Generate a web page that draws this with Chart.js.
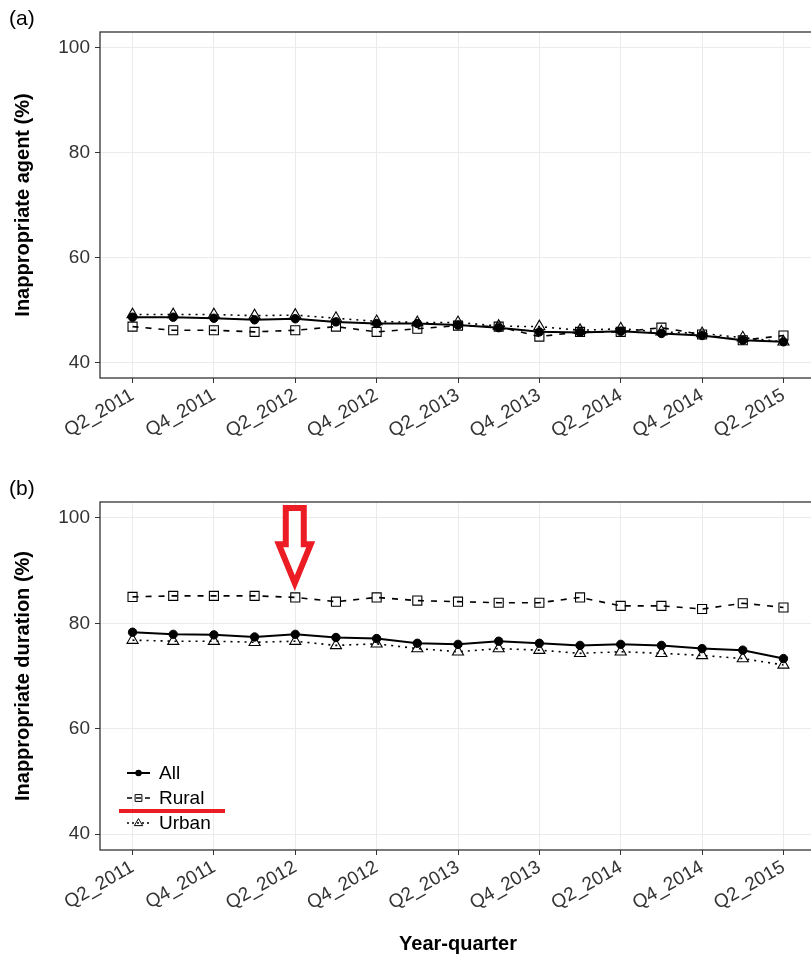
<!DOCTYPE html>
<html>
<head>
<meta charset="utf-8">
<script src="https://cdn.jsdelivr.net/npm/chart.js"></script>
<style>
  html, body { margin: 0; padding: 0; background: #fff; overflow: hidden; }
  #wrap { position: relative; width: 811px; height: 960px; overflow: hidden; }
  canvas { position: absolute; left: 0; }
</style>
</head>
<body>
<div id="wrap">
  <canvas id="panelA" width="830" height="470" style="top:0"></canvas>
  <canvas id="panelB" width="830" height="490" style="top:470px"></canvas>
</div>
<script>
// quarters on the x axis, only Q2 / Q4 get a label
const quarters = ['Q2_2011', 'Q3_2011', 'Q4_2011', 'Q1_2012', 'Q2_2012', 'Q3_2012', 'Q4_2012', 'Q1_2013',
  'Q2_2013', 'Q3_2013', 'Q4_2013', 'Q1_2014', 'Q2_2014', 'Q3_2014', 'Q4_2014', 'Q1_2015', 'Q2_2015'];
const xTickIdx = [0, 2, 4, 6, 8, 10, 12, 14, 16];
const yTicks = [40, 60, 80, 100];

// (a) inappropriate agent (%)
const agentAll   = [48.6, 48.6, 48.4, 48.1, 48.3, 47.7, 47.4, 47.4, 47.1, 46.6, 45.8, 45.7, 45.9, 45.5, 45.1, 44.2, 43.9];
const agentRural = [46.8, 46.1, 46.1, 45.8, 46.1, 46.8, 45.8, 46.4, 47.0, 46.8, 44.9, 45.8, 45.8, 46.6, 45.3, 44.2, 45.1];
const agentUrban = [49.1, 49.1, 49.1, 48.9, 49.0, 48.4, 47.8, 47.6, 47.6, 46.9, 46.8, 46.1, 46.4, 45.8, 45.5, 44.7, 43.9];

// (b) inappropriate duration (%)
const durAll   = [78.3, 77.9, 77.8, 77.4, 77.9, 77.3, 77.1, 76.2, 76.0, 76.6, 76.2, 75.8, 76.0, 75.8, 75.2, 74.9, 73.3];
const durRural = [85.0, 85.2, 85.2, 85.2, 84.9, 84.1, 84.9, 84.3, 84.1, 83.9, 83.9, 84.9, 83.3, 83.3, 82.7, 83.8, 83.0];
const durUrban = [76.8, 76.6, 76.6, 76.4, 76.6, 75.8, 76.1, 75.2, 74.6, 75.2, 74.9, 74.3, 74.6, 74.3, 73.9, 73.3, 72.1];

const seriesNames = ['All', 'Rural', 'Urban'];

const FONT = '"Liberation Sans", Arial, sans-serif';
const RED = '#ec1c24';
const TICK_TEXT = '#333';

function toXY(arr) {
  return arr.map((v, i) => ({ x: i, y: v }));
}

function makeDatasets(all, rural, urban) {
  return [
    {
      label: seriesNames[0], data: toXY(all),
      borderColor: '#000', borderWidth: 2,
      pointStyle: 'circle', pointRadius: 4.2,
      pointBackgroundColor: '#000', pointBorderColor: '#000', pointBorderWidth: 1
    },
    {
      label: seriesNames[1], data: toXY(rural),
      borderColor: '#000', borderWidth: 1.6, borderDash: [6, 7],
      pointStyle: 'rect', pointRadius: 6.4,
      pointBackgroundColor: 'rgba(0,0,0,0)', pointBorderColor: '#000', pointBorderWidth: 1.1
    },
    {
      label: seriesNames[2], data: toXY(urban),
      borderColor: '#000', borderWidth: 1.6, borderDash: [2, 5],
      pointStyle: 'triangle', pointRadius: 6.4,
      pointBackgroundColor: 'rgba(0,0,0,0)', pointBorderColor: '#000', pointBorderWidth: 1.1
    }
  ];
}

// panel border + panel tag
function panelFrame(tag) {
  return {
    id: 'panelFrame',
    afterDraw(chart) {
      const ctx = chart.ctx;
      const a = chart.chartArea;
      ctx.save();
      ctx.strokeStyle = '#333';
      ctx.lineWidth = 1.3;
      ctx.strokeRect(a.left, a.top, a.right - a.left, a.bottom - a.top);
      ctx.fillStyle = '#000';
      ctx.font = '21px ' + FONT;
      ctx.textBaseline = 'middle';
      ctx.textAlign = 'left';
      ctx.fillText(tag, 9, 19);
      ctx.restore();
    }
  };
}

function drawMarker(ctx, style, x, y, r) {
  ctx.beginPath();
  if (style === 'circle') {
    ctx.arc(x, y, r, 0, Math.PI * 2);
    ctx.fill();
  } else if (style === 'rect') {
    ctx.rect(x - r, y - r, 2 * r, 2 * r);
    ctx.stroke();
  } else {
    ctx.moveTo(x, y - r);
    ctx.lineTo(x + r * 0.95, y + r * 0.6);
    ctx.lineTo(x - r * 0.95, y + r * 0.6);
    ctx.closePath();
    ctx.stroke();
  }
}

// legend inside panel (b), with the red marks drawn over the figure
const legendAndMarks = {
  id: 'legendAndMarks',
  afterDraw(chart) {
    const ctx = chart.ctx;
    const a = chart.chartArea;
    const sizes = [3.2, 3.4, 4.4];
    ctx.save();
    chart.data.datasets.forEach((ds, i) => {
      const y = a.bottom - 77 + i * 25;
      ctx.strokeStyle = '#000';
      ctx.fillStyle = '#000';
      ctx.lineWidth = ds.borderWidth;
      ctx.setLineDash(i === 1 ? [5, 4] : i === 2 ? [2, 3] : []);
      ctx.beginPath();
      ctx.moveTo(a.left + 27, y);
      ctx.lineTo(a.left + 50, y);
      ctx.stroke();
      ctx.setLineDash([]);
      ctx.lineWidth = 1;
      drawMarker(ctx, ds.pointStyle, a.left + 38.5, y, sizes[i]);
      ctx.font = '19px ' + FONT;
      ctx.textAlign = 'left';
      ctx.textBaseline = 'middle';
      ctx.fillText(ds.label, a.left + 59, y + 1);
    });

    // red underline under the legend entry "Rural"
    ctx.strokeStyle = RED;
    ctx.lineWidth = 4;
    ctx.beginPath();
    ctx.moveTo(a.left + 19, a.bottom - 39);
    ctx.lineTo(a.left + 125, a.bottom - 39);
    ctx.stroke();

    // red arrow pointing at Q2_2012
    const cx = chart.scales.x.getPixelForValue(4) - 0.5;
    const yS = chart.scales.y;
    const top = a.top + 6;
    const headY = yS.getPixelForValue(95);
    const tipY = yS.getPixelForValue(87.6);
    ctx.beginPath();
    ctx.moveTo(cx - 9, top);
    ctx.lineTo(cx + 9, top);
    ctx.lineTo(cx + 9, headY);
    ctx.lineTo(cx + 16, headY);
    ctx.lineTo(cx, tipY);
    ctx.lineTo(cx - 16, headY);
    ctx.lineTo(cx - 9, headY);
    ctx.closePath();
    ctx.fillStyle = '#fff';
    ctx.fill();
    ctx.lineWidth = 6;
    ctx.lineJoin = 'miter';
    ctx.strokeStyle = RED;
    ctx.stroke();
    ctx.restore();
  }
};

function makeOptions(yTitle, showXTitle, xAxisHeight) {
  return {
    responsive: false,
    animation: false,
    events: [],
    layout: { padding: { top: 32, right: 14, left: 0, bottom: 0 } },
    plugins: { legend: { display: false }, tooltip: { enabled: false } },
    elements: { line: { tension: 0 } },
    scales: {
      x: {
        type: 'linear',
        min: -0.8,
        max: 16.8,
        afterBuildTicks: (axis) => { axis.ticks = xTickIdx.map(v => ({ value: v })); },
        afterFit: (axis) => { axis.height = xAxisHeight; },
        grid: { color: '#ebebeb', lineWidth: 1, tickColor: '#333', tickLength: 5, drawTicks: true },
        border: { display: false },
        ticks: {
          autoSkip: false,
          minRotation: 30,
          maxRotation: 30,
          padding: 1,
          color: TICK_TEXT,
          font: { family: FONT, size: 19 },
          callback: (v) => quarters[v]
        },
        title: {
          display: showXTitle,
          text: 'Year-quarter',
          color: '#000',
          font: { family: FONT, size: 20, weight: 'bold' },
          padding: { top: 0, bottom: 4 }
        }
      },
      y: {
        min: 37,
        max: 103,
        afterBuildTicks: (axis) => { axis.ticks = yTicks.map(v => ({ value: v })); },
        afterFit: (axis) => { axis.width = 100; },
        grid: { color: '#ebebeb', lineWidth: 1, tickColor: '#333', tickLength: 5 },
        border: { display: false },
        ticks: {
          padding: 5,
          color: TICK_TEXT,
          font: { family: FONT, size: 19 }
        },
        title: {
          display: true,
          text: yTitle,
          color: '#000',
          font: { family: FONT, size: 20, weight: 'bold' },
          padding: { top: 11, bottom: 0 }
        }
      }
    }
  };
}

new Chart(document.getElementById('panelA'), {
  type: 'line',
  data: { datasets: makeDatasets(agentAll, agentRural, agentUrban) },
  options: makeOptions('Inappropriate agent (%)', false, 92),
  plugins: [panelFrame('(a)')]
});

new Chart(document.getElementById('panelB'), {
  type: 'line',
  data: { datasets: makeDatasets(durAll, durRural, durUrban) },
  options: makeOptions('Inappropriate duration (%)', true, 110),
  plugins: [panelFrame('(b)'), legendAndMarks]
});
</script>
</body>
</html>
